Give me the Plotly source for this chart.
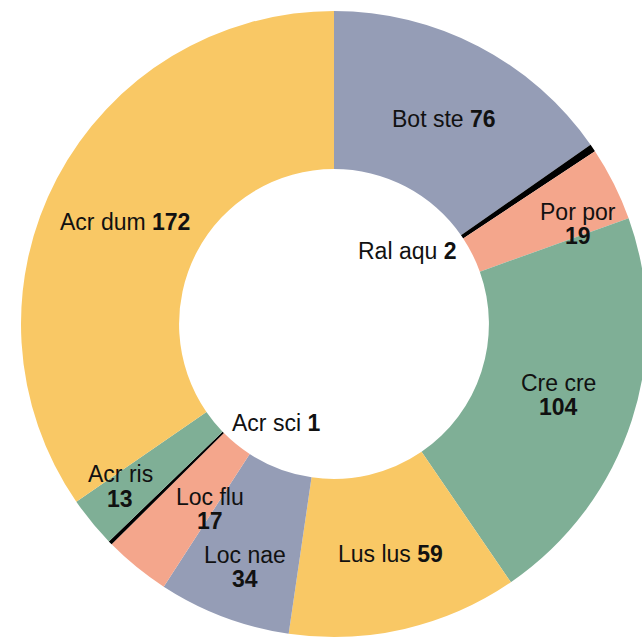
import plotly.graph_objects as go

# ---- data ----
species = ["Bot ste", "Ral aqu", "Por por", "Cre cre", "Lus lus",
           "Loc nae", "Loc flu", "Acr sci", "Acr ris", "Acr dum"]
counts = [76, 2, 19, 104, 59, 34, 17, 1, 13, 172]
slice_colors = ["#959DB6", "#000000", "#F4A68C", "#7FAF96", "#F9C865",
                "#959DB6", "#F4A68C", "#000000", "#7FAF96", "#F9C865"]

# ---- layout / styling ----
W, H = 668, 639          # figure is slightly wider than the window -> right side clipped
CY, R = 324, 313         # pie centre (y, px from top) and outer radius
HOLE = 0.495
FONT = "Liberation Sans, Arial, Helvetica, sans-serif"
FS = 23

# label placement in pixels: (x, y of name line, y of value line or None for single line)
label_pos = {
    "Bot ste": (444, 119, None),
    "Ral aqu": (407, 251, None),
    "Por por": (578, 211.5, 235.5),
    "Cre cre": (558, 383, 407),
    "Lus lus": (390, 554, None),
    "Loc nae": (245, 555, 579),
    "Loc flu": (210, 497, 521),
    "Acr sci": (276, 423, None),
    "Acr ris": (120, 474.5, 498.5),
    "Acr dum": (124.5, 222, None),
}

fig = go.Figure(go.Pie(
    labels=species,
    values=counts,
    sort=False,
    direction="clockwise",
    rotation=0,
    hole=HOLE,
    marker=dict(colors=slice_colors, line=dict(width=0)),
    textinfo="none",
    hoverinfo="label+value",
    showlegend=False,
    domain=dict(x=[0, 1], y=[(H - CY - R) / H, (H - CY + R) / H]),
))

annotations = []
for name, val in zip(species, counts):
    x, y1, y2 = label_pos[name]
    if y2 is None:
        annotations.append(dict(text=f"{name} <b>{val}</b>", x=x / W, y=1 - y1 / H))
    else:
        annotations.append(dict(text=name, x=x / W, y=1 - y1 / H))
        annotations.append(dict(text=f"<b>{val}</b>", x=x / W, y=1 - y2 / H))
for a in annotations:
    a.update(xref="paper", yref="paper", xanchor="center", yanchor="middle",
             showarrow=False, font=dict(family=FONT, size=FS, color="#111111"))

fig.update_layout(
    width=W, height=H,
    margin=dict(l=0, r=0, t=0, b=0),
    paper_bgcolor="white", plot_bgcolor="white",
    annotations=annotations,
    font=dict(family=FONT),
)

fig.write_html(
    "out.html",
    config=dict(displayModeBar=False),
    post_script="document.body.style.margin='0';document.body.style.overflow='hidden';",
)
